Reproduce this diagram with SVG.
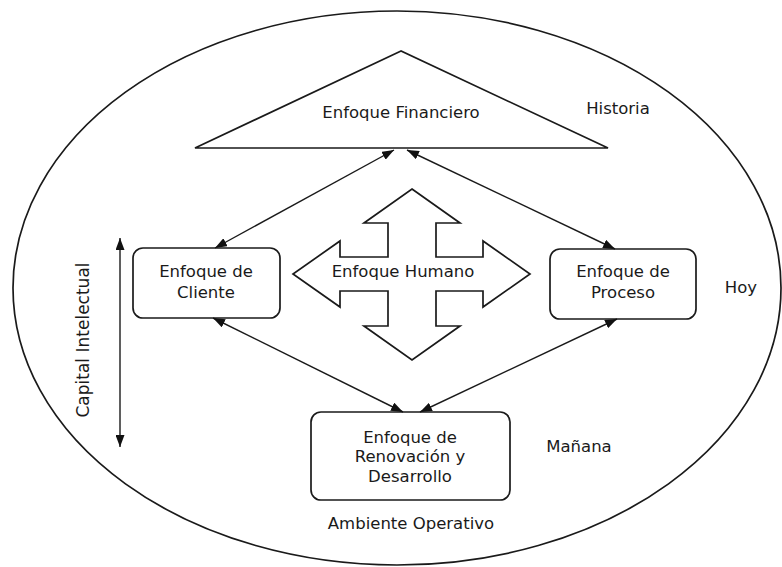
<svg xmlns="http://www.w3.org/2000/svg" width="782" height="567" viewBox="0 0 782 567">
  <style>
    .shape { fill: #fff; stroke: #1a1a1a; stroke-width: 1.7; }
    .frame { fill: none; stroke: #1a1a1a; stroke-width: 1.7; }
    .link { fill: none; stroke: #1a1a1a; stroke-width: 1.4; marker-start: url(#head); marker-end: url(#head); }
    .lbl { font-family: "DejaVu Sans", Verdana, sans-serif; font-size: 16.5px; fill: #1a1a1a; text-anchor: middle; }
  </style>
  <defs>
    <marker id="head" viewBox="0 0 12 9" refX="12" refY="4.5" markerWidth="12" markerHeight="9" markerUnits="userSpaceOnUse" orient="auto-start-reverse">
      <path d="M0,0 L12,4.5 L0,9 Z" fill="#111"/>
    </marker>
  </defs>

  <rect width="782" height="567" fill="#fff"/>

  <!-- operating environment boundary -->
  <g id="ambiente">
    <ellipse class="frame" cx="397" cy="288" rx="384" ry="277"/>
    <text class="lbl" x="411" y="529">Ambiente Operativo</text>
  </g>

  <!-- time labels -->
  <g id="historia"><text class="lbl" x="618" y="114">Historia</text></g>
  <g id="hoy"><text class="lbl" x="741" y="293">Hoy</text></g>
  <g id="manana"><text class="lbl" x="579" y="452">Mañana</text></g>

  <!-- intellectual capital axis -->
  <g id="capital">
    <line class="link" x1="120" y1="238" x2="120" y2="447"/>
    <text class="lbl" style="font-size:17px" transform="translate(89,340) rotate(-90)">Capital Intelectual</text>
  </g>

  <g id="financiero">
    <polygon class="shape" points="401,51 195,148 608,148"/>
    <text class="lbl" x="401" y="118">Enfoque Financiero</text>
  </g>

  <g id="cliente">
    <rect class="shape" x="133" y="248" width="147" height="70" rx="10"/>
    <text class="lbl" x="206" y="277">Enfoque de</text>
    <text class="lbl" x="206" y="298">Cliente</text>
  </g>

  <g id="proceso">
    <rect class="shape" x="550" y="249" width="146" height="70" rx="10"/>
    <text class="lbl" x="623" y="277">Enfoque de</text>
    <text class="lbl" x="623" y="298">Proceso</text>
  </g>

  <g id="renovacion">
    <rect class="shape" x="311" y="412" width="199" height="88" rx="10"/>
    <text class="lbl" x="410" y="443">Enfoque de</text>
    <text class="lbl" x="410" y="462">Renovación y</text>
    <text class="lbl" x="410" y="482">Desarrollo</text>
  </g>

  <g id="humano">
    <polygon class="shape" points="412,189 460,223 436,223 436,257 483,257 483,241 530,274 483,307 483,291 436,291 436,326 460,326 412,360 364,326 388,326 388,291 340,291 340,307 293,274 340,241 340,257 388,257 388,223 364,223"/>
    <text class="lbl" x="403" y="277">Enfoque Humano</text>
  </g>

  <g id="connectors">
    <line class="link" x1="394" y1="150" x2="215" y2="248"/>
    <line class="link" x1="407" y1="150" x2="615" y2="249"/>
    <line class="link" x1="213" y1="318" x2="403" y2="412"/>
    <line class="link" x1="617" y1="319" x2="420" y2="412"/>
  </g>
</svg>
